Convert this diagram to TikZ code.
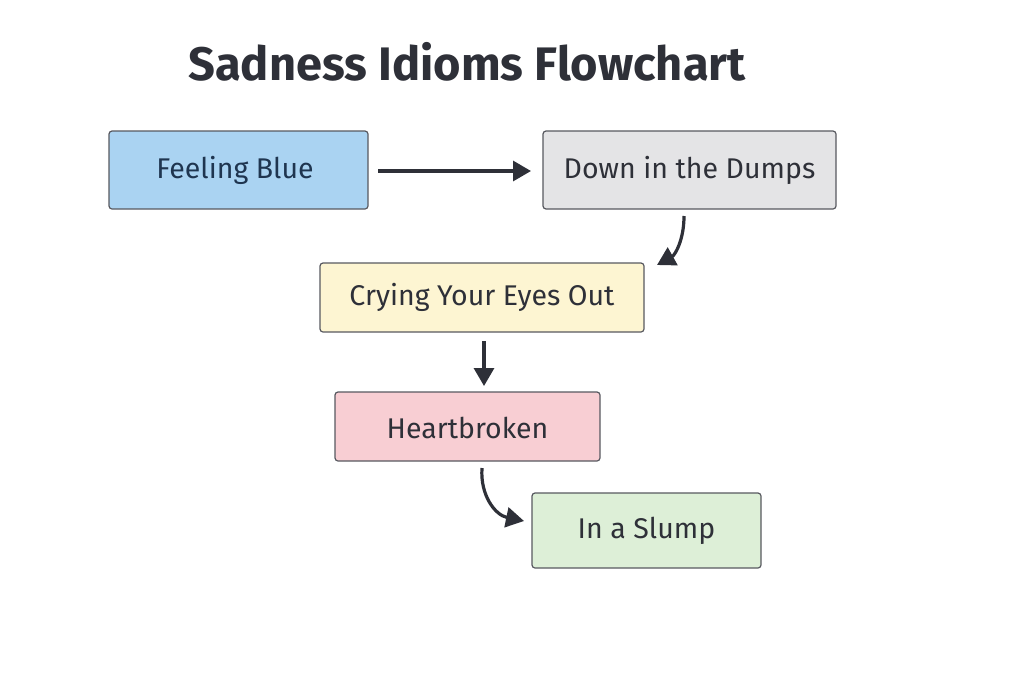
\documentclass[tikz,border=0pt]{standalone}
\usepackage{fontspec}
\setmainfont{Fira Sans}
\usetikzlibrary{arrows.meta}
\definecolor{ink}{HTML}{2E3038}
\definecolor{navy}{HTML}{1F3550}
\definecolor{cblue}{HTML}{AAD3F2}
\definecolor{cgray}{HTML}{E4E4E6}
\definecolor{cyel}{HTML}{FDF5D2}
\definecolor{cpink}{HTML}{F8CED3}
\definecolor{cgreen}{HTML}{DDEFD7}
\begin{document}
\begin{tikzpicture}[x=1pt,y=-1pt,
  box/.style={draw=ink!80,line width=1.2pt,rounded corners=3pt},
  lab/.style={text=ink,font=\fontsize{28.5}{32}\selectfont},
  arr/.style={draw=ink,line width=3.2pt,-{Triangle[length=18pt,width=20pt]}}]
\useasboundingbox (0,0) rectangle (1024,683);
\node[font=\fontsize{47}{52}\selectfont\bfseries,text=ink] (t) at (467,62) {Sadness Idioms Flowchart};
\path[box,fill=cblue] (109,131) rectangle (368,209); \node[lab,text=navy] (a) at (235,170) {Feeling Blue};
\path[box,fill=cgray] (543,131) rectangle (836,209); \node[lab] (b) at (689.5,170) {Down in the Dumps};
\path[box,fill=cyel] (320,263) rectangle (644,332); \node[lab] (c) at (482,297) {Crying Your Eyes Out};
\path[box,fill=cpink] (335,392) rectangle (600,461); \node[lab] (d) at (467.5,428) {Heartbroken};
\path[box,fill=cgreen] (532,493) rectangle (761,568); \node[lab] (e) at (646.5,531) {In a Slump};
\coordinate (a1) at (378,171); \coordinate (b0) at (531,171);
\coordinate (b1) at (684,216); \coordinate (c0) at (657,265);
\coordinate (c1) at (484,341); \coordinate (d0) at (484,386);
\coordinate (d1) at (482,468); \coordinate (e0) at (524,521);
\draw[arr] (a1) -- (b0);
\draw[arr] (b1) .. controls (684,240) and (675,255) .. (c0);
\draw[arr] (c1) -- (d0);
\draw[arr] (d1) .. controls (480,495) and (495,515) .. (e0);
\end{tikzpicture}
\end{document}
